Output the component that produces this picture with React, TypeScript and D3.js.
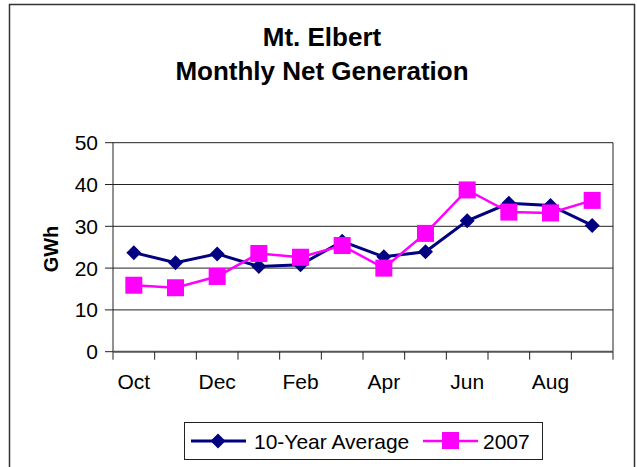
import React from 'react';
import { scaleBand, scaleLinear, line } from 'd3';

const months = ['Oct', 'Nov', 'Dec', 'Jan', 'Feb', 'Mar', 'Apr', 'May', 'Jun', 'Jul', 'Aug', 'Sep'];
const avgValues = [23.7, 21.3, 23.4, 20.4, 20.8, 26.4, 22.7, 23.9, 31.3, 35.5, 35.0, 30.2];
const values2007 = [15.9, 15.3, 18.0, 23.5, 22.6, 25.4, 20.0, 28.3, 38.7, 33.4, 33.2, 36.2];
const yTicks = [0, 10, 20, 30, 40, 50];
const seriesNames = ['10-Year Average', '2007'];

const W = 637;
const H = 467;
const plot = { left: 113, right: 613, top: 142.7, bottom: 351.7 };
const font = 'Liberation Sans, Arial, sans-serif';
const navy = '#000080';
const pink = '#FF00FF';

const App = () => {
    const x = scaleBand<string>().domain(months).range([plot.left, plot.right]).padding(0);
    const y = scaleLinear().domain([0, 50]).range([plot.bottom, plot.top]);
    const cx = (m: string) => (x(m) as number) + x.bandwidth() / 2;

    const path = line<number>()
        .x((d, i) => cx(months[i]))
        .y(d => y(d));

    const diamond = (px: number, py: number, r: number) =>
        `M${px},${py - r}L${px + r},${py}L${px},${py + r}L${px - r},${py}Z`;

    return (
        <svg width={W} height={H} style={{ position: 'absolute', left: 0, top: 0, background: '#fff' }} fontFamily={font}>
            {/* outer frame */}
            <rect x={9.5} y={4.5} width={625} height={480} fill="#fff" stroke="#333" strokeWidth={1.5} />

            {/* title */}
            <text x={322} y={46} textAnchor="middle" fontSize={26} fontWeight="bold">Mt. Elbert</text>
            <text x={322} y={80} textAnchor="middle" fontSize={26} fontWeight="bold">Monthly Net Generation</text>

            {/* gridlines and y ticks */}
            {yTicks.map(t => (
                <g key={t}>
                    {t > 0 && <line x1={plot.left} x2={plot.right} y1={y(t)} y2={y(t)} stroke="#222" strokeWidth={1} />}
                    <line x1={105} x2={plot.left} y1={y(t)} y2={y(t)} stroke="#222" strokeWidth={1} />
                    <text x={98} y={y(t) + 7.5} textAnchor="end" fontSize={21}>{t}</text>
                </g>
            ))}
            <line x1={plot.right} x2={plot.right} y1={plot.top} y2={plot.bottom} stroke="#222" strokeWidth={1} />
            <line x1={plot.left} x2={plot.left} y1={plot.top} y2={plot.bottom + 8} stroke="#222" strokeWidth={1} />
            <line x1={plot.left} x2={plot.right} y1={plot.bottom} y2={plot.bottom} stroke="#555" strokeWidth={2} />

            {/* x ticks */}
            {months.map((m, i) => (
                <g key={m}>
                    <line x1={(x(m) as number) + x.bandwidth()} x2={(x(m) as number) + x.bandwidth()}
                        y1={plot.bottom} y2={plot.bottom + 8} stroke="#222" strokeWidth={1} />
                    {i % 2 === 0 && <text x={cx(m)} y={389} textAnchor="middle" fontSize={21}>{m}</text>}
                </g>
            ))}

            {/* y axis title */}
            <text transform="translate(58,249) rotate(-90)" textAnchor="middle" fontSize={20} fontWeight="bold">GWh</text>

            {/* series */}
            <path d={path(avgValues) || ''} fill="none" stroke={navy} strokeWidth={3} />
            <path d={path(values2007) || ''} fill="none" stroke={pink} strokeWidth={2.5} />
            {avgValues.map((v, i) => (
                <path key={'a' + i} d={diamond(cx(months[i]), y(v), 7.5)} fill={navy} />
            ))}
            {values2007.map((v, i) => (
                <rect key={'b' + i} x={cx(months[i]) - 8.5} y={y(v) - 8.5} width={17} height={17} fill={pink} />
            ))}

            {/* legend */}
            <rect x={184.5} y={422.5} width={358} height={37} fill="#fff" stroke="#222" strokeWidth={1} />
            <line x1={191} x2={246} y1={441} y2={441} stroke={navy} strokeWidth={3} />
            <path d={diamond(218, 441, 7.5)} fill={navy} />
            <text x={254} y={448.5} fontSize={21}>{seriesNames[0]}</text>
            <line x1={423} x2={478} y1={441} y2={441} stroke={pink} strokeWidth={2.5} />
            <rect x={442} y={432} width={17} height={17} fill={pink} />
            <text x={483} y={448.5} fontSize={21}>{seriesNames[1]}</text>
        </svg>
    );
};

export default App;
